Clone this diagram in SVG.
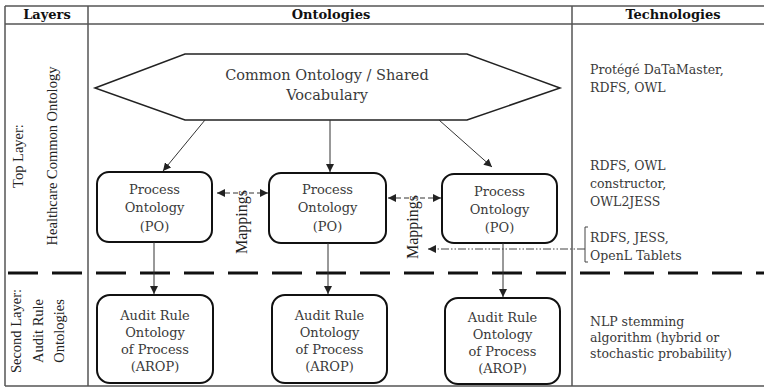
<svg xmlns="http://www.w3.org/2000/svg" width="764" height="389" viewBox="0 0 764 389">
<defs>
<style>
.grid{stroke:#555;stroke-width:1.5;fill:none}
.hdr{font-family:"DejaVu Serif",serif;font-weight:bold;font-size:13px;fill:#111;text-anchor:middle}
.lay{font-family:"Liberation Serif",serif;font-size:14.5px;fill:#222;text-anchor:middle}
.nt{font-family:"DejaVu Serif",serif;font-size:13px;fill:#3a3a3a;text-anchor:middle}
.tech{font-family:"DejaVu Serif",serif;font-size:12.5px;fill:#3a3a3a}
.box{fill:#fff;stroke:#111;stroke-width:2}
.conn{stroke:#333;stroke-width:1;fill:none}
.map{stroke:#333;stroke-width:1;fill:none;stroke-dasharray:5 3}
.dd{stroke:#444;stroke-width:1;fill:none;stroke-dasharray:8 2 1.5 2 1.5 2}
</style>
<marker id="ah" viewBox="0 0 10 10" refX="10" refY="5" markerWidth="8" markerHeight="8" markerUnits="userSpaceOnUse" orient="auto-start-reverse">
<path d="M0,0 L10,5 L0,10 Z" fill="#222"/>
</marker>
</defs>
<rect width="764" height="389" fill="#fff"/>
<g id="table">
<line class="grid" x1="5" y1="6" x2="764" y2="6"/>
<line class="grid" x1="5" y1="24" x2="764" y2="24"/>
<line class="grid" x1="5" y1="386" x2="764" y2="386"/>
<line class="grid" x1="5" y1="6" x2="5" y2="386"/>
<line class="grid" x1="88" y1="6" x2="88" y2="386"/>
<line class="grid" x1="572" y1="6" x2="572" y2="386"/>
<text class="hdr" x="47" y="19">Layers</text>
<text class="hdr" x="331" y="19">Ontologies</text>
<text class="hdr" x="673" y="19">Technologies</text>
<line x1="8" y1="273" x2="764" y2="273" stroke="#111" stroke-width="3" stroke-dasharray="30 14"/>
</g>
<g id="layer-top">
<text class="lay" transform="translate(23,156) rotate(-90)">Top Layer:</text>
<text class="lay" transform="translate(57,156) rotate(-90)">Healthcare Common Ontology</text>
</g>
<g id="layer-second">
<text class="lay" transform="translate(21,331) rotate(-90)">Second Layer:</text>
<text class="lay" transform="translate(43,331) rotate(-90)">Audit Rule</text>
<text class="lay" transform="translate(64,331) rotate(-90)">Ontologies</text>
</g>
<g id="common-ontology">
<polygon points="95,88 185,54 467,54 560,88 467,120 185,120" fill="#fff" stroke="#222" stroke-width="1.5"/>
<text class="nt" x="327" y="80" style="font-size:14.5px">Common Ontology / Shared</text>
<text class="nt" x="327" y="100" style="font-size:14.5px">Vocabulary</text>
</g>
<g id="po1">
<rect class="box" x="97" y="172" width="115" height="70" rx="12"/>
<text class="nt" x="154.5" y="194">Process</text>
<text class="nt" x="154.5" y="212">Ontology</text>
<text class="nt" x="154.5" y="231">(PO)</text>
</g>
<g id="po2">
<rect class="box" x="269" y="173" width="117" height="70" rx="12"/>
<text class="nt" x="327.5" y="194">Process</text>
<text class="nt" x="327.5" y="212">Ontology</text>
<text class="nt" x="327.5" y="231">(PO)</text>
</g>
<g id="po3">
<rect class="box" x="442" y="174" width="115" height="69" rx="12"/>
<text class="nt" x="499.5" y="196">Process</text>
<text class="nt" x="499.5" y="214">Ontology</text>
<text class="nt" x="499.5" y="232">(PO)</text>
</g>
<g id="arop1">
<rect class="box" x="97" y="295" width="116" height="88" rx="13"/>
<text class="nt" x="155" y="320">Audit Rule</text>
<text class="nt" x="155" y="337">Ontology</text>
<text class="nt" x="155" y="354">of Process</text>
<text class="nt" x="155" y="371">(AROP)</text>
</g>
<g id="arop2">
<rect class="box" x="272" y="295" width="115" height="88" rx="13"/>
<text class="nt" x="329.5" y="320">Audit Rule</text>
<text class="nt" x="329.5" y="337">Ontology</text>
<text class="nt" x="329.5" y="354">of Process</text>
<text class="nt" x="329.5" y="371">(AROP)</text>
</g>
<g id="arop3">
<rect class="box" x="445" y="298" width="115" height="86" rx="13"/>
<text class="nt" x="502.5" y="322">Audit Rule</text>
<text class="nt" x="502.5" y="339">Ontology</text>
<text class="nt" x="502.5" y="356">of Process</text>
<text class="nt" x="502.5" y="373">(AROP)</text>
</g>
<g id="technologies">
<text class="tech" x="590" y="74">Protégé DaTaMaster,</text>
<text class="tech" x="590" y="92">RDFS, OWL</text>
<text class="tech" x="590" y="170">RDFS, OWL</text>
<text class="tech" x="590" y="188">constructor,</text>
<text class="tech" x="590" y="206">OWL2JESS</text>
<text class="tech" x="590" y="242">RDFS, JESS,</text>
<text class="tech" x="590" y="260">OpenL Tablets</text>
<text class="tech" x="590" y="326">NLP stemming</text>
<text class="tech" x="590" y="342">algorithm (hybrid or</text>
<text class="tech" x="590" y="358">stochastic probability)</text>
<path d="M588,227 H585 V262 H588" fill="none" stroke="#444" stroke-width="1"/>
</g>
<g id="connectors">
<line class="conn" x1="205" y1="120" x2="163" y2="171" marker-end="url(#ah)"/>
<line class="conn" x1="330" y1="120" x2="330" y2="172" marker-end="url(#ah)"/>
<line class="conn" x1="439" y1="120" x2="492" y2="167" marker-end="url(#ah)"/>
<line class="map" x1="217" y1="193" x2="268" y2="193" marker-start="url(#ah)" marker-end="url(#ah)"/>
<line class="map" x1="388" y1="198" x2="441" y2="198" marker-start="url(#ah)" marker-end="url(#ah)"/>
<line class="dd" x1="585" y1="249" x2="428" y2="249" marker-end="url(#ah)"/>
<line class="conn" x1="154" y1="242" x2="154" y2="294" marker-end="url(#ah)"/>
<line class="conn" x1="328" y1="243" x2="328" y2="294" marker-end="url(#ah)"/>
<line class="conn" x1="503" y1="243" x2="503" y2="297" marker-end="url(#ah)"/>
<text class="lay" transform="translate(247,222) rotate(-90)" style="font-size:16px">Mappings</text>
<text class="lay" transform="translate(418,227) rotate(-90)" style="font-size:16px">Mappings</text>
</g>
</svg>
